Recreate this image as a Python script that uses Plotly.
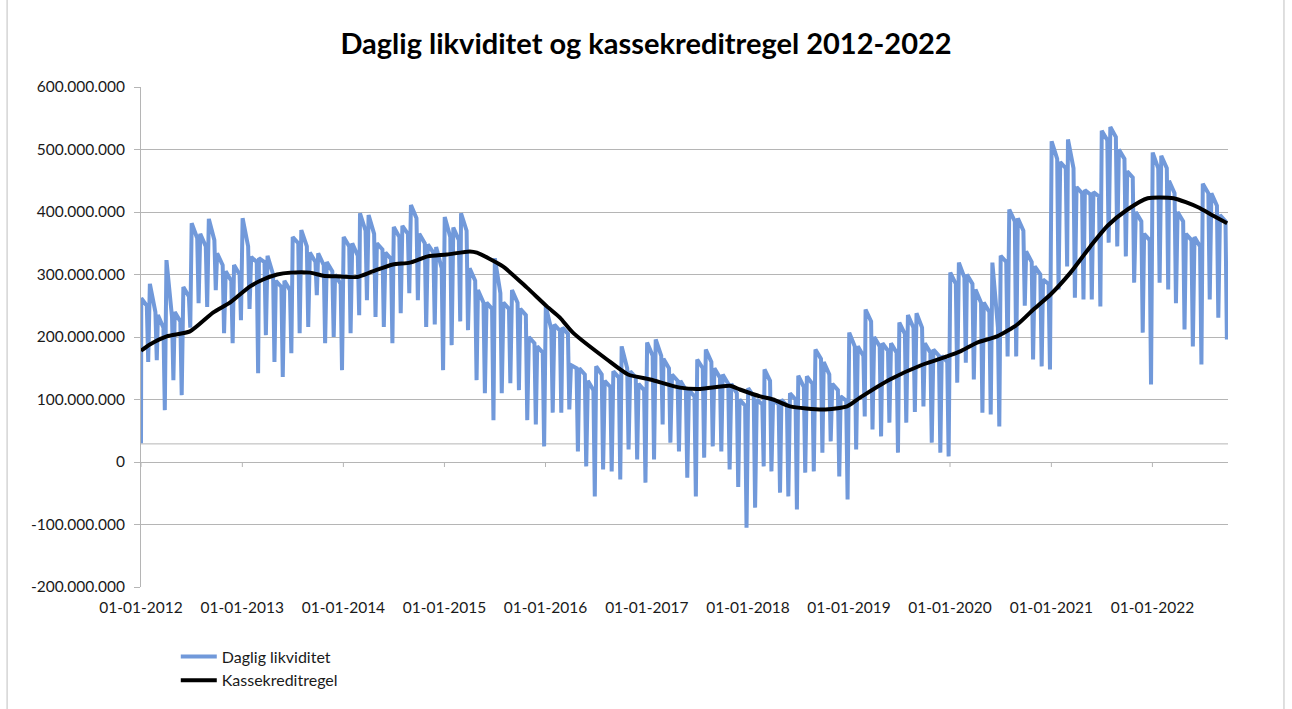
import pandas as pd
import plotly.graph_objects as go

# ---------------- data (values in millions DKK) ----------------
MONTHS = pd.date_range("2012-01-01", "2022-09-01", freq="MS")
START_DATE = "2012-01-01"
START_VALUE = 30

# monthly peak (early month), plateau level (mid month), trough (end of month)
HI = [262, 285, 235, 323, 240, 280, 382, 365, 389, 334, 305, 315,
      390, 328, 326, 330, 290, 290, 360, 371, 335, 334, 320, 300,
      360, 350, 398, 395, 350, 335, 376, 378, 411, 365, 348, 344,
      392, 375, 398, 310, 275, 255, 326, 255, 275, 245, 200, 185,
      249, 220, 215, 155, 150, 130, 153, 130, 145, 185, 145, 125,
      191, 196, 165, 140, 130, 115, 164, 180, 150, 140, 125, 100,
      118, 100, 148, 100, 100, 110, 138, 137, 180, 160, 125, 105,
      207, 185, 244, 200, 190, 190, 223, 235, 238, 190, 180, 170,
      303, 319, 300, 276, 255, 319, 330, 404, 390, 337, 313, 292,
      513, 480, 516, 440, 435, 432, 530, 536, 500, 465, 400, 365,
      495, 490, 450, 400, 365, 360, 445, 430, 395]
MID = [250, 240, 215, 232, 225, 265, 358, 345, 355, 315, 290, 300,
       345, 320, 320, 300, 280, 275, 350, 345, 320, 315, 305, 285,
       345, 330, 370, 365, 340, 325, 360, 365, 390, 350, 335, 310,
       360, 355, 370, 290, 255, 245, 270, 245, 255, 235, 190, 175,
       212, 210, 205, 150, 140, 115, 140, 120, 135, 150, 135, 115,
       170, 170, 150, 130, 115, 105, 150, 160, 135, 125, 110, 90,
       105, 92, 130, 92, 90, 100, 120, 125, 165, 140, 115, 98,
       185, 170, 225, 185, 178, 175, 205, 215, 215, 175, 170, 160,
       285, 295, 285, 255, 240, 215, 320, 385, 370, 320, 300, 285,
       485, 470, 470, 430, 428, 425, 515, 520, 485, 455, 385, 355,
       470, 470, 430, 385, 355, 345, 430, 410, 385]
LO = [160, 163, 83, 131, 107, 215, 254, 248, 275, 206, 190, 227,
      245, 142, 203, 160, 136, 174, 206, 216, 267, 190, 200, 147,
      206, 235, 259, 232, 216, 190, 238, 270, 259, 216, 220, 147,
      187, 225, 211, 131, 110, 67, 110, 126, 115, 67, 60, 25,
      79, 79, 84, 17, -7, -55, -12, -15, -28, 20, 4, -33,
      4, 60, 31, 17, -25, -55, 7, 25, 17, -12, -40, -105,
      -73, -7, -15, -49, -55, -76, -17, -15, 15, 33, -23, -60,
      20, 73, 52, 41, 63, 15, 63, 80, 89, 31, 15, 9,
      127, 159, 132, 79, 76, 57, 169, 169, 250, 164, 153, 148,
      276, 313, 263, 260, 260, 249, 351, 345, 329, 287, 207, 124,
      287, 276, 254, 212, 185, 156, 260, 231, 196]

# Kassekreditregel (smooth rolling average)
KK_DATES = ["2012-01-01", "2012-02-02", "2012-04-03", "2012-06-26", "2012-09-17",
            "2012-11-17", "2013-01-29", "2013-03-17", "2013-05-07", "2013-06-23",
            "2013-09-03", "2013-10-20", "2013-12-20", "2014-02-19", "2014-04-17",
            "2014-06-29", "2014-08-29", "2014-11-02", "2015-01-10", "2015-04-03",
            "2015-04-28", "2015-07-31", "2015-10-26", "2016-01-06", "2016-02-22",
            "2016-04-09", "2016-08-10", "2016-10-25", "2017-01-13", "2017-05-01",
            "2017-07-13", "2017-10-28", "2017-12-03", "2018-02-14", "2018-04-02",
            "2018-06-02", "2018-09-29", "2018-12-25", "2019-02-10", "2019-05-29",
            "2019-09-25", "2019-12-21", "2020-02-07", "2020-04-08", "2020-06-19",
            "2020-08-31", "2020-10-28", "2020-12-29", "2021-03-11", "2021-05-22",
            "2021-07-23", "2021-10-03", "2021-12-15", "2022-03-18", "2022-06-13",
            "2022-08-09", "2022-09-28"]
KK_VALUES = [178, 188, 201, 209, 239,
             255, 281, 292, 300, 303,
             303, 298, 297, 296, 305,
             316, 319, 329, 332, 337,
             335, 313, 279, 249, 231,
             207, 164, 140, 132, 119,
             117, 122, 116, 105, 100,
             89, 84, 89, 103, 132,
             156, 169, 177, 191, 201,
             220, 244, 268, 303, 345,
             378, 404, 422, 422, 408,
             394, 382]

Y_TICKS = [-200, -100, 0, 100, 200, 300, 400, 500, 600]
YEAR_TICKS = ["2012-01-01", "2013-01-01", "2014-01-01", "2015-01-01", "2016-01-01",
              "2017-01-01", "2018-01-01", "2019-01-01", "2020-01-01", "2021-01-01",
              "2022-01-01"]
REF_LEVEL = 29
X_END = "2022-10-01"
SCALE = 1_000_000

# day offsets inside each month for the three monthly readings
HI_DAY, MID_DAY, LO_DAY = 1, 21, 26

# ---------------- build series ----------------
dx = [pd.Timestamp(START_DATE)]
dy = [START_VALUE * SCALE]
for m, h, md, lo in zip(MONTHS, HI, MID, LO):
    dx += [m + pd.Timedelta(days=HI_DAY), m + pd.Timedelta(days=MID_DAY),
           m + pd.Timedelta(days=LO_DAY)]
    dy += [h * SCALE, md * SCALE, lo * SCALE]

kx = pd.to_datetime(KK_DATES)
ky = [v * SCALE for v in KK_VALUES]

FONT = "Lato"
TXT = "#1a1a1a"
GRID = "#b5b5b5"
BLUE = "#7199da"

fig = go.Figure()
fig.add_trace(go.Scatter(x=dx, y=dy, mode="lines", name="Daglig likviditet",
                         line=dict(color=BLUE, width=4)))
fig.add_trace(go.Scatter(x=kx, y=ky, mode="lines", name="Kassekreditregel",
                         line=dict(color="#000000", width=4, shape="spline",
                                   smoothing=0.6)))

ytext = [f"{v * SCALE:,}".replace(",", ".") for v in Y_TICKS]
xtext = [pd.Timestamp(d).strftime("%d-%m-%Y") for d in YEAR_TICKS]

fig.update_layout(
    width=1292, height=709, autosize=False,
    margin=dict(l=141, r=64, t=87, b=122),
    paper_bgcolor="white", plot_bgcolor="white",
    font=dict(family=FONT, color=TXT, size=15.5),
    title=dict(text="<b>Daglig likviditet og kassekreditregel 2012-2022</b>",
               x=0.5, xref="container", xanchor="center",
               y=0.938, yref="container", yanchor="middle",
               font=dict(family=FONT, size=29, color="#000000")),
    showlegend=True,
    legend=dict(x=0.032, y=-0.105, xanchor="left", yanchor="top",
                font=dict(family=FONT, size=16, color=TXT),
                bgcolor="rgba(0,0,0,0)", tracegroupgap=0, itemwidth=36),
    xaxis=dict(type="date", range=[START_DATE, X_END],
               tickmode="array", tickvals=YEAR_TICKS, ticktext=xtext,
               showgrid=False, showline=False, zeroline=False, ticks="",
               ticklabelstandoff=9, tickfont=dict(size=15.5)),
    yaxis=dict(range=[Y_TICKS[0] * SCALE, Y_TICKS[-1] * SCALE],
               tickmode="array", tickvals=[v * SCALE for v in Y_TICKS],
               ticktext=ytext, showgrid=True, gridcolor=GRID, gridwidth=1,
               zeroline=True, zerolinecolor=GRID, zerolinewidth=1,
               showline=True, linecolor=GRID, linewidth=1,
               ticks="outside", ticklen=6, tickcolor=GRID,
               ticklabelstandoff=6, tickfont=dict(size=15.5)),
)

# extra horizontal reference line
fig.add_hline(y=REF_LEVEL * SCALE, line=dict(color=GRID, width=1), layer="below")

# tick marks on the zero axis line
for d in YEAR_TICKS:
    fig.add_shape(type="line", xref="x", yref="y", x0=d, x1=d,
                  y0=0, y1=-8 * SCALE, line=dict(color=GRID, width=1), layer="below")

# chart-area border
fig.add_shape(type="rect", xref="paper", yref="paper",
              x0=-0.1232, x1=1.0515, y0=-0.26, y1=1.2,
              line=dict(color="#bfbfbf", width=1), fillcolor="rgba(0,0,0,0)")

fig.write_html("out.html", config={"displayModeBar": False},
               post_script="document.body.style.margin='0';")
